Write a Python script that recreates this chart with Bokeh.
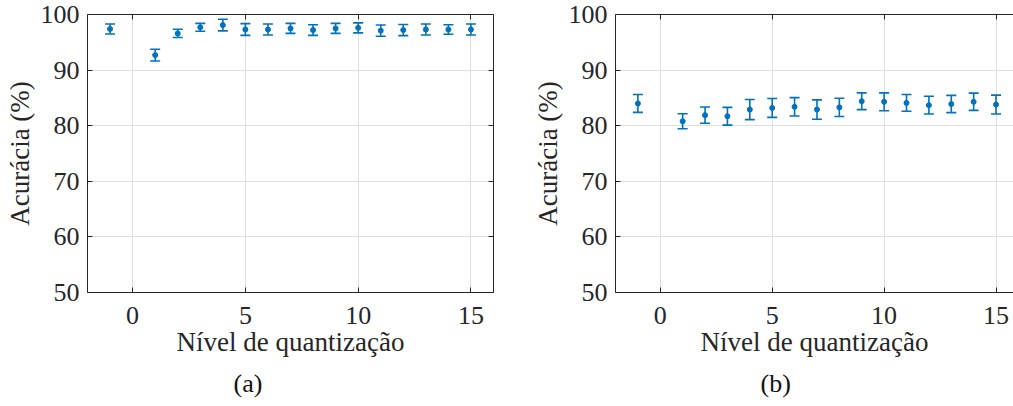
from bokeh.plotting import figure
from bokeh.layouts import row
from bokeh.models import (ColumnDataSource, Whisker, TeeHead, LinearAxis, Title,
                          FixedTicker, Range1d)
from bokeh.embed import file_html
from bokeh.resources import INLINE

# ---- data ----
levels = [-1, 1, 2, 3, 4, 5, 6, 7, 8, 9, 10, 11, 12, 13, 14, 15]
acc_a = [97.4, 92.7, 96.6, 97.7, 98.1, 97.3, 97.3, 97.5, 97.2, 97.5, 97.6, 97.1, 97.2, 97.3, 97.3, 97.3]
err_a = [0.9, 1.05, 0.75, 0.7, 1.05, 1.05, 1.0, 0.9, 0.95, 0.9, 0.9, 1.0, 1.0, 1.0, 0.85, 1.0]
acc_b = [84.0, 80.8, 81.9, 81.7, 82.9, 83.2, 83.4, 82.9, 83.3, 84.4, 84.3, 84.1, 83.7, 83.9, 84.3, 83.8]
err_b = [1.6, 1.35, 1.45, 1.6, 1.8, 1.7, 1.65, 1.75, 1.65, 1.5, 1.6, 1.5, 1.6, 1.55, 1.55, 1.7]
x_ticks = [0, 5, 10, 15]
y_ticks = [50, 60, 70, 80, 90, 100]
x_label = "Nível de quantização"
y_label = "Acurácia (%)"
captions = ["(a)", "(b)"]

BLUE = "#0072BD"
AXC = "#262626"
FONT = "Liberation Serif"
FS = "26px"
LFS = "27px"


def style_axis(ax, labels=True):
    ax.axis_line_color = AXC
    ax.axis_line_width = 1
    ax.major_tick_line_color = AXC
    ax.major_tick_in = 5
    ax.major_tick_out = 0
    ax.minor_tick_line_color = None
    ax.major_label_text_font = FONT
    ax.major_label_text_color = AXC
    ax.major_label_text_font_size = FS
    ax.axis_label_text_font = FONT
    ax.axis_label_text_font_style = "normal"
    ax.axis_label_text_color = AXC
    ax.axis_label_text_font_size = LFS
    if not labels:
        ax.major_label_overrides = {t: "" for t in ax.ticker.ticks}
        ax.major_label_standoff = 0


def make_panel(acc, err, caption, width, border_left, border_right, x_end, right_axis, cap_off):
    p = figure(width=width, height=404, output_backend="svg", toolbar_location=None,
               x_range=Range1d(-2, x_end), y_range=Range1d(50, 100),
               min_border_left=border_left, min_border_right=border_right,
               min_border_top=14, min_border_bottom=112,
               x_axis_location=None, y_axis_location=None)
    p.outline_line_color = None
    p.background_fill_color = "white"

    lo = [a - e for a, e in zip(acc, err)]
    hi = [a + e for a, e in zip(acc, err)]
    src = ColumnDataSource(dict(x=levels, y=acc, lo=lo, hi=hi))

    xb = LinearAxis(ticker=FixedTicker(ticks=x_ticks), axis_label=x_label)
    yl = LinearAxis(ticker=FixedTicker(ticks=y_ticks), axis_label=y_label)
    xt = LinearAxis(ticker=FixedTicker(ticks=x_ticks))
    for ax, lab in ((xb, True), (yl, True), (xt, False)):
        style_axis(ax, lab)
    xb.major_label_standoff = 14
    xb.axis_label_standoff = 0
    yl.major_label_standoff = 8
    yl.axis_label_standoff = 3
    p.add_layout(xb, "below")
    p.add_layout(yl, "left")
    p.add_layout(xt, "above")
    if right_axis:
        yr = LinearAxis(ticker=FixedTicker(ticks=y_ticks))
        style_axis(yr, False)
        p.add_layout(yr, "right")

    p.xgrid.ticker = FixedTicker(ticks=x_ticks)
    p.ygrid.ticker = FixedTicker(ticks=y_ticks)
    for g in (p.xgrid, p.ygrid):
        g.grid_line_color = "#dfdfdf"
        g.grid_line_width = 1

    w = Whisker(base="x", upper="hi", lower="lo", source=src, dimension="height",
                line_color=BLUE, line_width=1.6,
                upper_head=TeeHead(size=10, line_color=BLUE, line_width=1.6),
                lower_head=TeeHead(size=10, line_color=BLUE, line_width=1.6))
    p.add_layout(w)
    p.scatter("x", "y", source=src, size=5, color=BLUE)

    p.add_layout(Title(text=caption, text_font=FONT, text_font_size="26px",
                       text_font_style="normal", text_color="#111111",
                       align="left", offset=cap_off, standoff=14), "below")
    return p


p1 = make_panel(acc_a, err_a, captions[0], 529, 87, 36, 16, True, 146)
p2 = make_panel(acc_b, err_b, captions[1], 484, 83, 0, 15.78, False, 145)

layout = row(p1, p2, spacing=0)
open("out.html", "w").write(file_html(layout, INLINE))
